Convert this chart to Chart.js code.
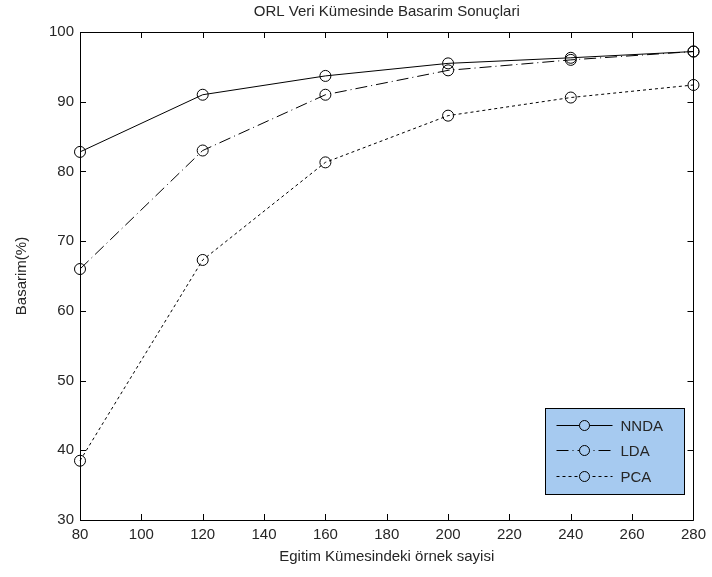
<!DOCTYPE html>
<html>
<head>
<meta charset="utf-8">
<title>ORL Veri Kümesinde Basarim Sonuçlari</title>
<script src="https://cdn.jsdelivr.net/npm/chart.js@4.4.1/dist/chart.umd.min.js"></script>
<style>
    html, body { margin: 0; padding: 0; background: #ffffff; }
    #wrap { width: 712px; height: 577px; }
</style>
</head>
<body>
<div id="wrap"><canvas id="chart" width="712" height="577"></canvas></div>
<script>
// egitim kumesindeki ornek sayisi
let ornekSayisi = [80, 120, 160, 200, 240, 280];

// basarim (%) her yontem icin
let basarimNNDA = [82.8, 91.0, 93.7, 95.5, 96.3, 97.2];
let basarimLDA = [66.0, 83.0, 91.0, 94.5, 96.0, 97.2];
let basarimPCA = [38.5, 67.3, 81.3, 88.0, 90.6, 92.4];

let xTicks = [80, 100, 120, 140, 160, 180, 200, 220, 240, 260, 280];
let yTicks = [30, 40, 50, 60, 70, 80, 90, 100];

let fontAdi = "'Liberation Sans', Arial, sans-serif";
let yaziRengi = '#262626';

function toPoints(xs, ys) {
    let pts = [];
    for (let i in xs) {
        pts.push({ x: xs[i], y: ys[i] });
    }
    return pts;
}

function makeDataset(label, values, dash) {
    return {
        label: label,
        data: toPoints(ornekSayisi, values),
        borderColor: '#000000',
        backgroundColor: 'rgba(0,0,0,0)',
        borderWidth: 1,
        borderDash: dash,
        tension: 0,
        pointStyle: 'circle',
        pointRadius: 5.5,
        pointBorderWidth: 1,
        pointBorderColor: '#000000',
        pointBackgroundColor: 'rgba(0,0,0,0)',
        clip: false
    };
}

// kutu + iceri bakan tick cizgileri (matlab tarzi)
let kutuPlugin = {
    id: 'kutu',
    beforeDatasetsDraw: function (chart) {
        let ctx = chart.ctx;
        let a = chart.chartArea;
        let xs = chart.scales.x;
        let ys = chart.scales.y;
        let tl = 6;
        ctx.save();
        ctx.strokeStyle = '#000000';
        ctx.lineWidth = 1;
        ctx.beginPath();
        ctx.rect(Math.round(a.left) + 0.5, Math.round(a.top) + 0.5,
            Math.round(a.right - a.left), Math.round(a.bottom - a.top));
        for (let i in xTicks) {
            let px = Math.round(xs.getPixelForValue(xTicks[i])) + 0.5;
            ctx.moveTo(px, a.bottom);
            ctx.lineTo(px, a.bottom - tl);
            ctx.moveTo(px, a.top);
            ctx.lineTo(px, a.top + tl);
        }
        for (let i in yTicks) {
            let py = Math.round(ys.getPixelForValue(yTicks[i])) + 0.5;
            ctx.moveTo(a.left, py);
            ctx.lineTo(a.left + tl, py);
            ctx.moveTo(a.right, py);
            ctx.lineTo(a.right - tl, py);
        }
        ctx.stroke();
        ctx.restore();
    }
};

// grafik icindeki mavi legend kutusu
let legendPlugin = {
    id: 'icLegend',
    afterDatasetsDraw: function (chart) {
        let ctx = chart.ctx;
        let a = chart.chartArea;
        let w = 139, h = 86;
        let x0 = Math.round(a.right - 9 - w) + 0.5;
        let y0 = Math.round(a.bottom - 26 - h) + 0.5;
        ctx.save();
        ctx.fillStyle = '#a6caf0';
        ctx.strokeStyle = '#000000';
        ctx.lineWidth = 1;
        ctx.fillRect(x0, y0, w, h);
        ctx.strokeRect(x0, y0, w, h);

        ctx.font = '15px ' + fontAdi;
        ctx.textBaseline = 'middle';
        ctx.textAlign = 'left';
        let sets = chart.data.datasets;
        for (let i = 0; i < sets.length; i++) {
            let cy = Math.round(y0 + 16 + i * 25.5) + 0.5;
            let lx1 = x0 + 11, lx2 = x0 + 67, cx = (lx1 + lx2) / 2;
            ctx.strokeStyle = '#000000';
            ctx.setLineDash(sets[i].borderDash || []);
            ctx.beginPath();
            ctx.moveTo(lx1, cy);
            ctx.lineTo(lx2, cy);
            ctx.stroke();
            ctx.setLineDash([]);
            ctx.beginPath();
            ctx.arc(cx, cy, 5, 0, Math.PI * 2);
            ctx.fillStyle = '#a6caf0';
            ctx.fill();
            ctx.stroke();
            ctx.fillStyle = yaziRengi;
            ctx.fillText(sets[i].label, x0 + 75, cy + 1);
        }
        ctx.restore();
    }
};

let chart = new Chart(document.getElementById('chart'), {
    type: 'line',
    data: {
        datasets: [
            makeDataset('NNDA', basarimNNDA, []),
            makeDataset('LDA', basarimLDA, [12, 4, 1, 4]),
            makeDataset('PCA', basarimPCA, [3, 3])
        ]
    },
    options: {
        responsive: false,
        animation: false,
        devicePixelRatio: 1,
        layout: { padding: { left: 0, right: 14, top: 0, bottom: 0 } },
        scales: {
            x: {
                type: 'linear',
                min: 80,
                max: 280,
                afterBuildTicks: function (scale) {
                    scale.ticks = xTicks.map(function (v) { return { value: v }; });
                },
                afterFit: function (scale) { scale.height = 57; },
                grid: { display: false, drawTicks: false },
                border: { display: false },
                ticks: {
                    padding: 6,
                    maxRotation: 0,
                    autoSkip: false,
                    color: yaziRengi,
                    font: { family: fontAdi, size: 15 }
                },
                title: {
                    display: true,
                    text: 'Egitim Kümesindeki örnek sayisi',
                    color: yaziRengi,
                    font: { family: fontAdi, size: 15 },
                    padding: { top: 0, bottom: 11 }
                }
            },
            y: {
                type: 'linear',
                min: 30,
                max: 100,
                afterBuildTicks: function (scale) {
                    scale.ticks = yTicks.map(function (v) { return { value: v }; });
                },
                afterFit: function (scale) { scale.width = 80; },
                grid: { display: false, drawTicks: false },
                border: { display: false },
                ticks: {
                    padding: 6,
                    autoSkip: false,
                    color: yaziRengi,
                    font: { family: fontAdi, size: 15 }
                },
                title: {
                    display: true,
                    text: 'Basarim(%)',
                    color: yaziRengi,
                    font: { family: fontAdi, size: 15 },
                    padding: { top: 13, bottom: 0 }
                }
            }
        },
        plugins: {
            legend: { display: false },
            tooltip: { enabled: false },
            title: {
                display: true,
                fullSize: false,
                text: 'ORL Veri Kümesinde Basarim Sonuçlari',
                color: yaziRengi,
                font: { family: fontAdi, size: 15, weight: 'normal' },
                padding: { top: 3, bottom: 11 }
            }
        }
    },
    plugins: [kutuPlugin, legendPlugin]
});
</script>
</body>
</html>
